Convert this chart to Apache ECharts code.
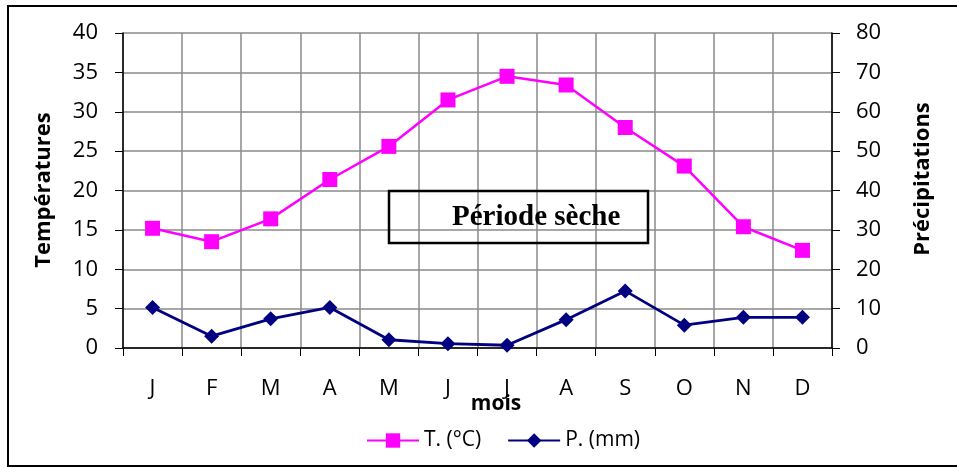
<!DOCTYPE html>
<html>
<head>
<meta charset="utf-8">
<script src="https://cdn.jsdelivr.net/npm/echarts@6/dist/echarts.min.js"></script>
<style>
  html, body { margin: 0; padding: 0; background: #fff; }
  #chart { width: 957px; height: 467px; }
</style>
</head>
<body>
<div id="chart"></div>
<script>
// Monthly climate data: temperature (°C) and precipitation (mm)
const months = ['J', 'F', 'M', 'A', 'M', 'J', 'J', 'A', 'S', 'O', 'N', 'D'];
const temperature = [15.2, 13.5, 16.4, 21.4, 25.6, 31.5, 34.5, 33.4, 28.0, 23.1, 15.4, 12.4];
const precipitation = [10.3, 3.0, 7.4, 10.3, 2.1, 1.1, 0.7, 7.2, 14.5, 5.8, 7.8, 7.8];
const tempTicks = { min: 0, max: 40, interval: 5 };
const precTicks = { min: 0, max: 80, interval: 10 };

const FONT = '"Open Sans", "Noto Sans", sans-serif';
const GRID_GRAY = '#8a8a8a';

const chart = echarts.init(document.getElementById('chart'), null, { renderer: 'canvas' });

chart.setOption({
  animation: false,
  backgroundColor: '#ffffff',
  grid: { left: 123, right: 125, top: 33, bottom: 119, containLabel: false },
  legend: {
    left: 361,
    top: 425,
    itemWidth: 52,
    itemHeight: 18,
    itemGap: 26,
    textStyle: { fontFamily: FONT, fontSize: 21, color: '#000' },
    data: ['T. (°C)', 'P. (mm)']
  },
  xAxis: {
    type: 'category',
    data: months,
    boundaryGap: true,
    axisLine: { show: true, lineStyle: { color: '#000', width: 1.5 } },
    axisTick: { show: true, interval: 0, length: 8, lineStyle: { color: '#000', width: 1 } },
    axisLabel: { interval: 0, margin: 30, fontFamily: FONT, fontSize: 22, color: '#000' },
    splitLine: { show: true, interval: 0, lineStyle: { color: GRID_GRAY, width: 1.5 } }
  },
  yAxis: [
    {
      type: 'value',
      position: 'left',
      min: tempTicks.min, max: tempTicks.max, interval: tempTicks.interval,
      axisLine: { show: true, lineStyle: { color: '#000', width: 1.5 } },
      axisTick: { show: true, length: 8, lineStyle: { color: '#000', width: 1 } },
      axisLabel: { margin: 25, fontFamily: FONT, fontSize: 22, color: '#000' },
      splitLine: { show: true, lineStyle: { color: GRID_GRAY, width: 1.5 } }
    },
    {
      type: 'value',
      position: 'right',
      min: precTicks.min, max: precTicks.max, interval: precTicks.interval,
      axisLine: { show: true, lineStyle: { color: '#000', width: 1.5 } },
      axisTick: { show: true, length: 8, lineStyle: { color: '#000', width: 1 } },
      axisLabel: { margin: 24, fontFamily: FONT, fontSize: 22, color: '#000' },
      splitLine: { show: false }
    }
  ],
  series: [
    {
      name: 'T. (°C)',
      type: 'line',
      yAxisIndex: 0,
      data: temperature,
      symbol: 'rect',
      symbolSize: 15,
      itemStyle: { color: '#ff00ff' },
      lineStyle: { color: '#ff00ff', width: 2.5 },
      z: 3
    },
    {
      name: 'P. (mm)',
      type: 'line',
      yAxisIndex: 1,
      data: precipitation,
      symbol: 'diamond',
      symbolSize: 15,
      itemStyle: { color: '#000080' },
      lineStyle: { color: '#000080', width: 2.8 },
      z: 3
    }
  ],
  graphic: [
    // outer frame of the figure
    {
      type: 'rect',
      shape: { x: 8, y: 6, width: 970, height: 460 },
      style: { fill: 'none', stroke: '#000', lineWidth: 2 },
      silent: true
    },
    // axis titles
    {
      type: 'text',
      x: 44,
      y: 190,
      rotation: Math.PI / 2,
      style: {
        text: 'Températures',
        font: 'bold 22px "Open Sans", "Noto Sans", sans-serif',
        fill: '#000',
        verticalAlign: 'middle',
        align: 'center'
      },
      silent: true
    },
    {
      type: 'text',
      x: 923,
      y: 179,
      rotation: Math.PI / 2,
      style: {
        text: 'Précipitations',
        font: 'bold 22px "Open Sans", "Noto Sans", sans-serif',
        fill: '#000',
        verticalAlign: 'middle',
        align: 'center'
      },
      silent: true
    },
    {
      type: 'text',
      x: 496,
      y: 404,
      style: {
        text: 'mois',
        font: 'bold 21px "Open Sans", "Noto Sans", sans-serif',
        fill: '#000',
        verticalAlign: 'middle',
        align: 'center'
      },
      z: 10,
      silent: true
    },
    // dry season annotation box
    {
      type: 'rect',
      shape: { x: 389, y: 191, width: 259, height: 52 },
      style: { fill: 'none', stroke: '#000', lineWidth: 2.5 },
      z: 10,
      silent: true
    },
    {
      type: 'text',
      x: 452,
      y: 218,
      style: {
        text: 'Période sèche',
        font: 'bold 29px "Liberation Serif", "Times New Roman", serif',
        fill: '#000',
        verticalAlign: 'middle',
        align: 'left'
      },
      z: 10,
      silent: true
    }
  ]
});
</script>
</body>
</html>
